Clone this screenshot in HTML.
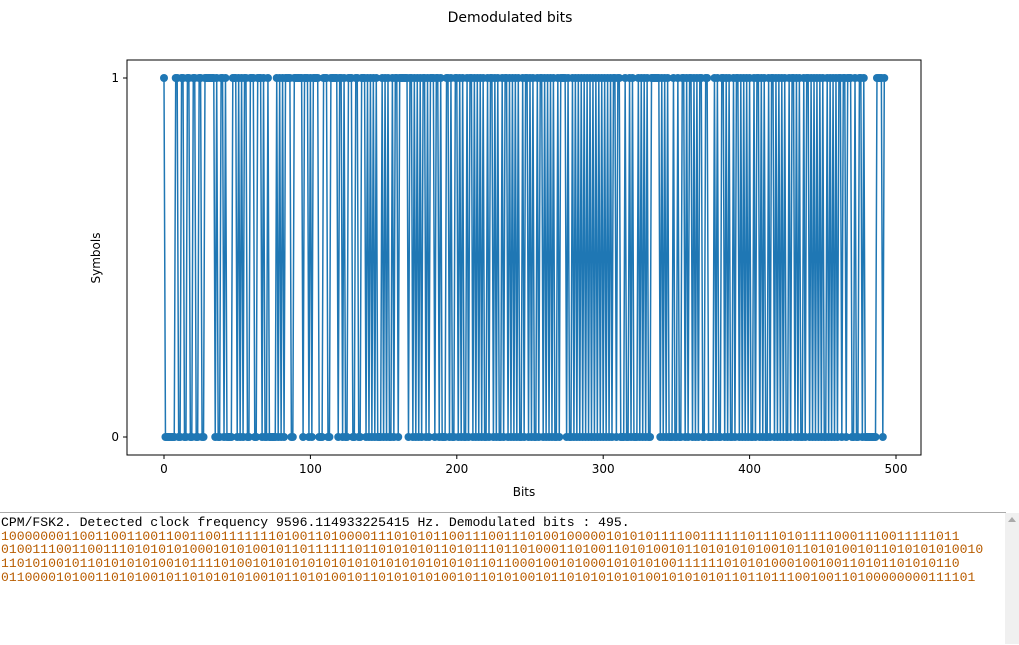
<!DOCTYPE html>
<html><head><meta charset="utf-8"><style>
body{margin:0;width:1019px;height:644px;background:#fff;overflow:hidden;position:relative;font-family:"DejaVu Sans","Liberation Sans",sans-serif}
#out{position:absolute;left:0;top:512px;width:1005px;height:129px;padding-top:3px;border-top:1px solid #aaa;font-family:"Liberation Mono",monospace;font-size:13.1px;line-height:13.7px;color:#b85c00;white-space:pre;overflow:hidden;padding-left:1px}
#out .hd{color:#000}
#sb{position:absolute;left:1005px;top:513px;width:14px;height:131px;background:#f0f0f0}
</style></head><body>
<svg id="chart" width="1019" height="510" style="position:absolute;left:0;top:0"></svg>
<div id="out"><span class="hd">CPM/FSK2. Detected clock frequency 9596.114933225415 Hz. Demodulated bits : 495.</span>
<span id="bitsText"></span></div>
<div id="sb"><div style="margin:4px auto 0;width:0;height:0;border-left:4px solid transparent;border-right:4px solid transparent;border-bottom:5px solid #aaa"></div></div>
<script>
const bitLines = [
"10000000110011001100110011001111111010011010000111010101100111001110100100000101010111100111111011101011110001110011111011",
"01001110011001110101010100010101001011011111101101010101101011101101000110100110101001011010101010010110101001011010101010010",
"11010100101101010101001011110100101010101010101010101010101011011000100101000101010100111111010101000100100110101101010110",
"0110000101001101010010110101010100101101010010110101010100101101010010110101010101001010101011011011100100110100000000111101"
];
const xTicks = [0,100,200,300,400,500];
const yTicks = [0,1];
const bits = bitLines.join("").split("").map(Number);
document.getElementById('bitsText').textContent = bitLines.join("\n");
const NS="http://www.w3.org/2000/svg", svg=document.getElementById('chart');
const L=127,R=921,T=60,B=455;
const xs=v=>164+(896-164)*v/500;
const ys=v=>437-(437-78)*v;
function mk(t,a,p){const e=document.createElementNS(NS,t);for(const k in a)e.setAttribute(k,a[k]);(p||svg).appendChild(e);return e;}
let d="";bits.forEach((b,i)=>{d+=(i?"L":"M")+xs(i).toFixed(2)+","+ys(b).toFixed(2);});
const g=mk('g',{});


const ln=mk('path',{d:d,fill:'none',stroke:'#1f77b4','stroke-width':1.5},g);


bits.forEach((b,i)=>{const c=mk('circle',{cx:xs(i),cy:ys(b),r:4,fill:'#1f77b4'},g);

});
const fr=mk('rect',{x:L,y:T,width:R-L,height:B-T,fill:'none',stroke:'#000','stroke-width':1});


xTicks.forEach(v=>{mk('line',{x1:xs(v),x2:xs(v),y1:B,y2:B+4,stroke:'#000'});
const t=mk('text',{x:xs(v),y:B+18,'text-anchor':'middle','font-size':12});t.textContent=v;

});
yTicks.forEach(v=>{mk('line',{x1:L-4,x2:L,y1:ys(v),y2:ys(v),stroke:'#000'});
const t=mk('text',{x:L-8,y:ys(v)+4,'text-anchor':'end','font-size':12});t.textContent=v;

});
const ti=mk('text',{x:510,y:22,'text-anchor':'middle','font-size':14});ti.textContent='Demodulated bits';


const xl=mk('text',{x:524,y:496,'text-anchor':'middle','font-size':12});xl.textContent='Bits';


const yl=mk('text',{x:100,y:258,'text-anchor':'middle','font-size':12,transform:'rotate(-90 100 258)'});yl.textContent='Symbols';


</script>
</body></html>
